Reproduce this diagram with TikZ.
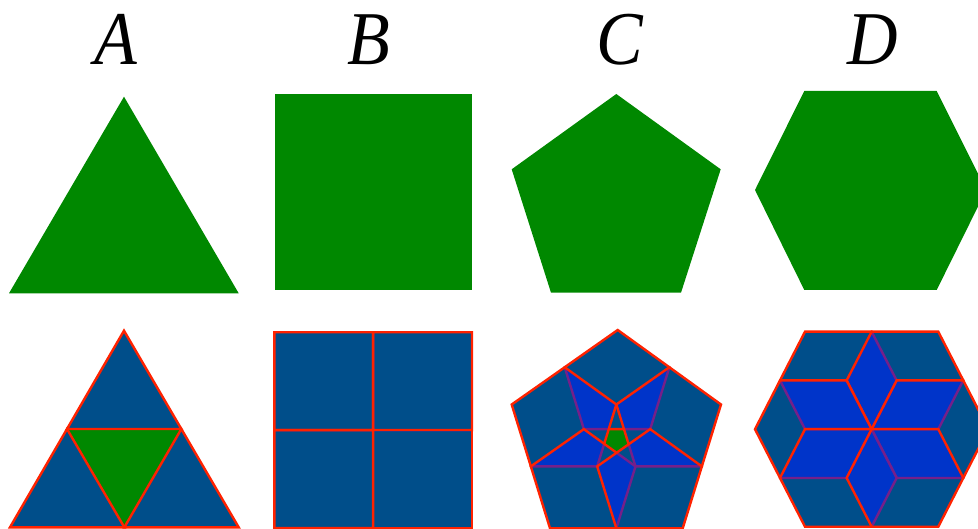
\documentclass[tikz,border=0pt]{standalone}
\usepackage{fontspec}
\setmainfont{Liberation Serif}
\usetikzlibrary{calc}
\definecolor{polygreen}{RGB}{0,136,0}
\definecolor{layerblue}{RGB}{0,30,255}
\definecolor{edgered}{RGB}{255,34,0}
\newcommand\HalfTri[3]{\filldraw[half] (#1) -- ($(#1)!0.5!(#2)$) -- ($(#1)!0.5!(#3)$) -- cycle;}
\newcommand\HalfSq[4]{\filldraw[half] (#1) -- ($(#1)!0.5!(#2)$) -- ($(#1)!0.5!(#3)$) -- ($(#1)!0.5!(#4)$) -- cycle;}
\newcommand\HalfPent[5]{\filldraw[half] (#1) -- ($(#1)!0.5!(#2)$) -- ($(#1)!0.5!(#3)$) -- ($(#1)!0.5!(#4)$) -- ($(#1)!0.5!(#5)$) -- cycle;}
\newcommand\HalfHex[6]{\filldraw[half] (#1) -- ($(#1)!0.5!(#2)$) -- ($(#1)!0.5!(#3)$) -- ($(#1)!0.5!(#4)$) -- ($(#1)!0.5!(#5)$) -- ($(#1)!0.5!(#6)$) -- cycle;}
\begin{document}
\begin{tikzpicture}[x=1pt,y=-1pt,
  base/.style={fill=polygreen,draw=none},
  half/.style={fill=layerblue,fill opacity=0.54,draw=edgered,line width=2.4pt,line join=miter},
  letter/.style={font=\fontsize{76}{76}\selectfont\itshape,anchor=base,inner sep=0pt,xscale=0.92}]
\useasboundingbox (0,0) rectangle (978,529);
\clip (0,0) rectangle (978,529);
% letters
\node[letter] (lA) at (116,65) {A};
\node[letter] (lB) at (369,65) {B};
\node[letter] (lC) at (620,65) {C};
\node[letter] (lD) at (873,65) {D};
% top row
\fill[base] (124,96.7) -- (238.7,293.3) -- (9,293.3) -- cycle;
\fill[base] (275,94) rectangle (472,290);
\fill[base] (616.3,94) -- (720.7,169.3) -- (681,292.7) -- (551,292.7) -- (511.7,169.3) -- cycle;
\fill[base] (804.3,91) -- (936.7,91) -- (986.2,190) -- (936.7,290) -- (804.3,290) -- (755,190) -- cycle;
% bottom A
\coordinate (t0) at (124,330.7);
\coordinate (t1) at (238.7,527.3);
\coordinate (t2) at (10,527.3);
\fill[base] (t0) -- (t1) -- (t2) -- cycle;
\HalfTri{t0}{t1}{t2}
\HalfTri{t1}{t2}{t0}
\HalfTri{t2}{t0}{t1}
% bottom B
\coordinate (s0) at (274.3,332.3);
\coordinate (s1) at (472,332.3);
\coordinate (s2) at (472,528);
\coordinate (s3) at (274.3,528);
\fill[base] (s0) -- (s1) -- (s2) -- (s3) -- cycle;
\HalfSq{s0}{s1}{s2}{s3}
\HalfSq{s1}{s2}{s3}{s0}
\HalfSq{s2}{s3}{s0}{s1}
\HalfSq{s3}{s0}{s1}{s2}
% bottom C
\coordinate (p0) at (617.7,330);
\coordinate (p1) at (721,404.5);
\coordinate (p2) at (682.7,528.3);
\coordinate (p3) at (550,528.3);
\coordinate (p4) at (511.7,404.5);
\fill[base] (p0) -- (p1) -- (p2) -- (p3) -- (p4) -- cycle;
\HalfPent{p0}{p1}{p2}{p3}{p4}
\HalfPent{p1}{p2}{p3}{p4}{p0}
\HalfPent{p4}{p0}{p1}{p2}{p3}
\HalfPent{p3}{p4}{p0}{p1}{p2}
\HalfPent{p2}{p3}{p4}{p0}{p1}
% bottom D
\coordinate (h0) at (988.3,429.2);
\coordinate (h1) at (938.3,331.7);
\coordinate (h2) at (805,331.7);
\coordinate (h3) at (755,429.2);
\coordinate (h4) at (805,526.7);
\coordinate (h5) at (938.3,526.7);
\fill[base] (h0) -- (h1) -- (h2) -- (h3) -- (h4) -- (h5) -- cycle;
\HalfHex{h2}{h3}{h4}{h5}{h0}{h1}
\HalfHex{h1}{h2}{h3}{h4}{h5}{h0}
\HalfHex{h3}{h4}{h5}{h0}{h1}{h2}
\HalfHex{h0}{h1}{h2}{h3}{h4}{h5}
\HalfHex{h4}{h5}{h0}{h1}{h2}{h3}
\HalfHex{h5}{h0}{h1}{h2}{h3}{h4}
\end{tikzpicture}
\end{document}
